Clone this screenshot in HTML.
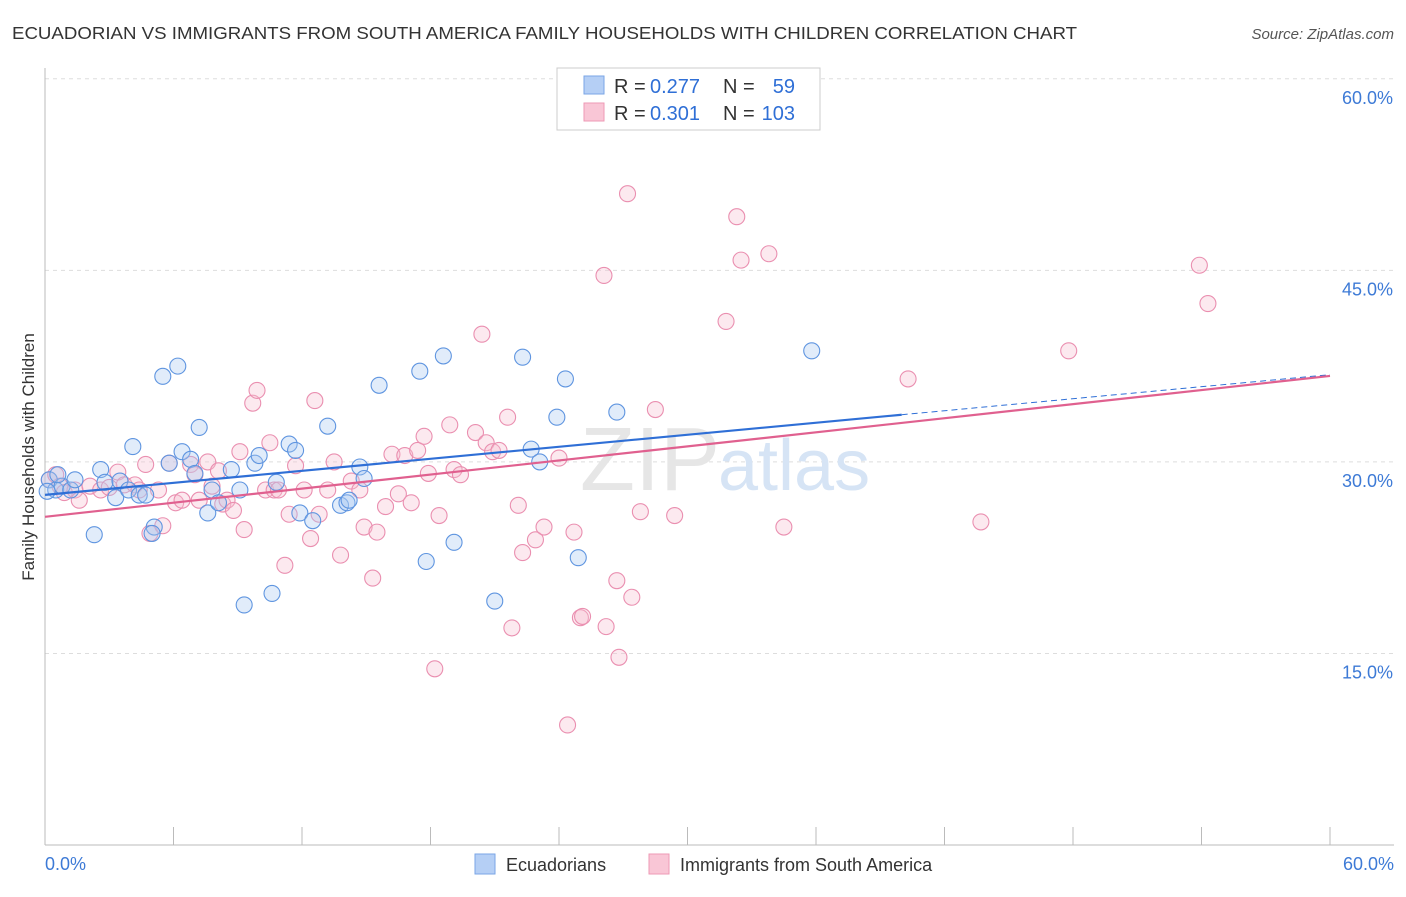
<!DOCTYPE html>
<html><head><meta charset="utf-8"><style>
body{margin:0;background:#fff;font-family:"Liberation Sans",sans-serif;}
svg text{font-family:"Liberation Sans",sans-serif;}
</style></head><body>
<svg id="chart" width="1406" height="892">
<text x="12" y="39" font-size="17.5" fill="#333" textLength="1065" lengthAdjust="spacingAndGlyphs">ECUADORIAN VS IMMIGRANTS FROM SOUTH AMERICA FAMILY HOUSEHOLDS WITH CHILDREN CORRELATION CHART</text>
<text x="1394" y="39" font-size="15" fill="#555" font-style="italic" text-anchor="end">Source: ZipAtlas.com</text>
<text transform="translate(34,457) rotate(-90)" font-size="17" fill="#333" text-anchor="middle">Family Households with Children</text>
<g id="grid"></g>
<text x="720" y="490" font-size="90" fill="#e6e6e6" text-anchor="end" font-family="Liberation Serif">ZIP</text>
<text x="718" y="490" font-size="72" fill="#d6e4f5">atlas</text>
<g id="marks"></g>
<g>
<rect x="557" y="68" width="263" height="62" fill="#fff" stroke="#ccc"/>
<rect x="584" y="76" width="20" height="18" fill="#b5cff5" stroke="#7aa6e6"/>
<rect x="584" y="103" width="20" height="18" fill="#f9c6d6" stroke="#ee99b5"/>
<text x="614" y="93" font-size="20" fill="#333">R =</text>
<text x="650" y="93" font-size="20" fill="#2f6fd6">0.277</text>
<text x="723" y="93" font-size="20" fill="#333">N =</text>
<text x="795" y="93" font-size="20" fill="#2f6fd6" text-anchor="end">59</text>
<text x="614" y="120" font-size="20" fill="#333">R =</text>
<text x="650" y="120" font-size="20" fill="#2f6fd6">0.301</text>
<text x="723" y="120" font-size="20" fill="#333">N =</text>
<text x="795" y="120" font-size="20" fill="#2f6fd6" text-anchor="end">103</text>
</g>
<g>
<rect x="475" y="854" width="20" height="20" fill="#b5cff5" stroke="#7aa6e6"/>
<text x="506" y="871" font-size="18" fill="#333">Ecuadorians</text>
<rect x="649" y="854" width="20" height="20" fill="#f9c6d6" stroke="#ee99b5"/>
<text x="680" y="871" font-size="18" fill="#333">Immigrants from South America</text>
</g>
</svg>
<script>
const yTicks=[15,30,45,60];
const xTickLabels=["0.0%","60.0%"];
const blueX=[0.2,0.5,0.8,1.2,1.4,2.6,2.3,2.8,3.3,3.5,3.9,4.1,4.4,4.7,5.1,5.0,5.5,5.8,6.2,6.4,6.8,7.0,7.2,7.6,7.8,8.1,8.7,9.1,9.3,9.8,10.0,10.6,10.8,11.4,11.7,11.9,12.5,13.2,13.8,14.1,14.2,14.7,14.9,15.6,17.5,17.8,18.6,19.1,21.0,22.3,22.7,23.1,23.9,24.3,24.9,26.7,35.8,0.1,0.6];
const blueY=[28.6,27.8,28.1,27.8,28.6,29.4,24.3,28.4,27.2,28.5,27.8,31.2,27.4,27.4,24.9,24.4,36.7,29.9,37.5,30.8,30.2,29.1,32.7,26.0,27.8,26.8,29.4,27.8,18.8,29.9,30.5,19.7,28.4,31.4,30.9,26.0,25.4,32.8,26.6,26.8,27.0,29.6,28.7,36.0,37.1,22.2,38.3,23.7,19.1,38.2,31.0,30.0,33.5,36.5,22.5,33.9,38.7,27.7,29.0];
const pinkX=[0.2,0.5,0.7,0.9,1.4,1.6,2.1,2.6,3.0,3.4,3.7,4.2,4.4,4.7,4.9,5.3,5.5,5.8,6.1,6.4,6.8,7.0,7.2,7.6,7.8,8.1,8.3,8.5,8.8,9.1,9.3,9.7,9.9,10.3,10.5,10.7,10.9,11.2,11.4,11.7,12.1,12.4,12.6,12.8,13.2,13.5,13.8,14.3,14.7,14.9,15.3,15.5,15.9,16.2,16.5,16.8,17.1,17.4,17.7,17.9,18.2,18.4,18.9,19.1,19.4,20.1,20.4,20.6,20.9,21.2,21.6,22.1,22.3,22.9,21.8,23.3,24.0,24.4,24.7,25.0,25.1,26.1,26.2,26.7,26.8,27.2,27.4,27.8,28.5,29.4,31.8,32.3,32.5,33.8,34.5,40.3,43.7,47.8,53.9,54.3];
const pinkY=[28.6,29.0,28.1,27.6,27.8,27.0,28.1,27.8,28.0,29.2,28.2,28.2,27.8,29.8,24.4,27.8,25.0,29.9,26.8,27.0,29.8,29.0,27.0,30.0,28.1,29.3,26.7,27.0,26.2,30.8,24.7,34.6,35.6,27.8,31.5,27.8,27.8,21.9,25.9,29.7,27.8,24.0,34.8,25.9,27.8,30.0,22.7,28.5,27.8,24.9,20.9,24.5,26.5,30.6,27.5,30.5,26.8,30.9,32.0,29.1,13.8,25.8,32.9,29.4,29.0,32.3,40.0,31.5,30.8,30.9,33.5,26.6,22.9,23.9,17.0,24.9,30.3,9.4,24.5,17.8,17.9,44.6,17.1,20.7,14.7,51.0,19.4,26.1,34.1,25.8,41.0,49.2,45.8,46.3,24.9,36.5,25.3,38.7,45.4,42.4];
const NS='http://www.w3.org/2000/svg';
const X0=45,X1=1330,Y0=845,PX=(X1-X0)/60,PY=12.77;
function sx(v){return X0+v*PX;}
function sy(v){return Y0-v*PY;}
function mk(t,a,p){const e=document.createElementNS(NS,t);for(const k in a)e.setAttribute(k,a[k]);p.appendChild(e);return e;}
const grid=document.getElementById('grid');
yTicks.forEach(t=>{
 const l=mk('line',{x1:X0,x2:1394,y1:sy(t),y2:sy(t),stroke:'#ddd','stroke-dasharray':'4,4'},grid);
 
 
 const tx=mk('text',{x:1393,y:sy(t)+25,'font-size':18,fill:'#3d7ad6','text-anchor':'end'},grid);
 tx.textContent=t.toFixed(1)+'%';
 
 
});
const ax=mk('line',{x1:X0,x2:X0,y1:68,y2:Y0,stroke:'#bbb'},grid);


const bx=mk('line',{x1:X0,x2:1394,y1:Y0,y2:Y0,stroke:'#bbb'},grid);


for(let i=1;i<=10;i++){const tk=mk('line',{x1:sx(i*6),x2:sx(i*6),y1:827,y2:Y0,stroke:'#bbb'},grid);
 
 }
[[0,'start',45],[60,'end',1394]].forEach((d,i)=>{const t=mk('text',{x:d[2],y:870,'font-size':18,fill:'#3d7ad6','text-anchor':d[1]},grid);t.textContent=xTickLabels[i];
 
 });
const marks=document.getElementById('marks');
function pts(xs,ys,fill,stroke,name){xs.forEach((x,i)=>{const c=mk('circle',{cx:sx(x),cy:sy(ys[i]),r:8,fill:fill,'fill-opacity':0.35,stroke:stroke,'stroke-width':1.1},marks);
 
 });}
pts(pinkX,pinkY,'#f7c0d2','#ea8fb0','point-immigrants');
pts(blueX,blueY,'#a9c8f2','#5f95e0','point-ecuadorians');
function fit(xs,ys){const n=xs.length;let mx=0,my=0;xs.forEach((x,i)=>{mx+=x;my+=ys[i];});mx/=n;my/=n;let sxy=0,sxx=0;xs.forEach((x,i)=>{sxy+=(x-mx)*(ys[i]-my);sxx+=(x-mx)**2;});const b=sxy/sxx;return [my-b*mx,b];}
const bf=fit(blueX,blueY),pf=fit(pinkX,pinkY);
const xEndB=40;
let l1=mk('line',{x1:sx(0),y1:sy(bf[0]),x2:sx(xEndB),y2:sy(bf[0]+bf[1]*xEndB),stroke:'#2f6fd6','stroke-width':2.2},marks);


let l2=mk('line',{x1:sx(xEndB),y1:sy(bf[0]+bf[1]*xEndB),x2:sx(60),y2:sy(bf[0]+bf[1]*60),stroke:'#2f6fd6','stroke-width':1,'stroke-dasharray':'6,4'},marks);


let l3=mk('line',{x1:sx(0),y1:sy(pf[0]),x2:sx(60),y2:sy(pf[0]+pf[1]*60),stroke:'#e0608f','stroke-width':2.2},marks);


</script>
</body></html>
